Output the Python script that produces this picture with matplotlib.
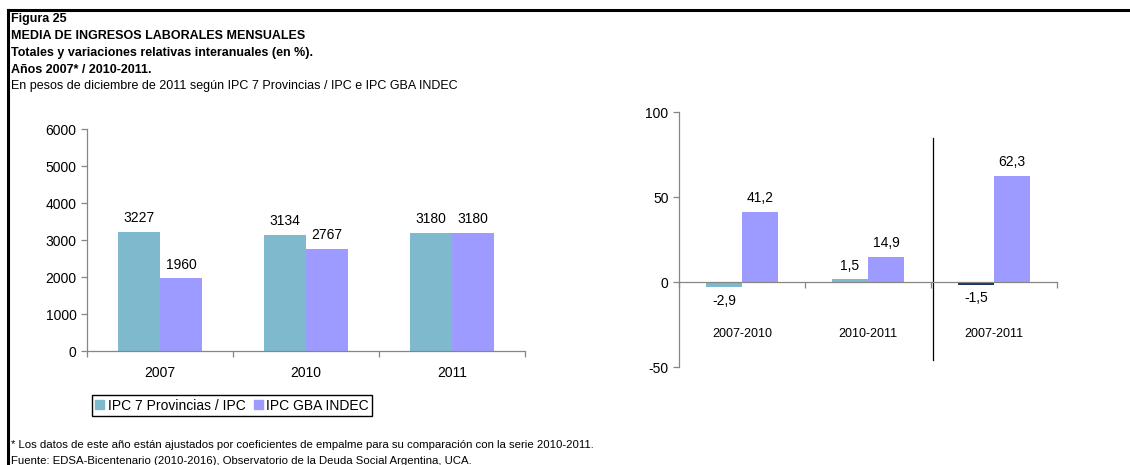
import numpy as np
import matplotlib.pyplot as plt
from matplotlib.lines import Line2D
from matplotlib.patches import Patch

plt.rcParams['font.family'] = ['Liberation Sans', 'DejaVu Sans']
plt.rcParams['axes.unicode_minus'] = False

# datos
anios = ['2007', '2010', '2011']
ipc_7prov = [3227, 3134, 3180]
ipc_gba = [1960, 2767, 3180]

periodos = ['2007-2010', '2010-2011', '2007-2011']
var_7prov = [-2.9, 1.5, -1.5]
var_gba = [41.2, 14.9, 62.3]

c_teal = '#7EB9CD'
c_lila = '#9D9BFF'
c_navy = '#17375E'
c_eje = '#868686'

fig = plt.figure(figsize=(11.3, 4.65), dpi=100)

# marco
fig.add_artist(Line2D([8 / 1130, 1], [1 - 10 / 465, 1 - 10 / 465], color='black', lw=2.2))
fig.add_artist(Line2D([8 / 1130, 8 / 1130], [0, 1 - 10 / 465], color='black', lw=2.2))

# titulos
titulos = ['Figura 25', 'MEDIA DE INGRESOS LABORALES MENSUALES',
           'Totales y variaciones relativas interanuales (en %).',
           'Años 2007* / 2010-2011.']
for i, t in enumerate(titulos):
    fig.text(11 / 1130, 1 - (19 + 17 * i) / 465, t, fontsize=9, fontweight='bold', va='center')
fig.text(11 / 1130, 1 - 86 / 465, 'En pesos de diciembre de 2011 según IPC 7 Provincias / IPC e IPC GBA INDEC',
         fontsize=9, va='center')

fig.text(11 / 1130, 1 - 445 / 465,
         '* Los datos de este año están ajustados por coeficientes de empalme para su comparación con la serie 2010-2011.',
         fontsize=8.2, va='center')
fig.text(11 / 1130, 1 - 461 / 465,
         'Fuente: EDSA-Bicentenario (2010-2016), Observatorio de la Deuda Social Argentina, UCA.',
         fontsize=8.2, va='center')


def estilo(ax):
    for s in ['top', 'right']:
        ax.spines[s].set_visible(False)
    for s in ['left', 'bottom']:
        ax.spines[s].set_color(c_eje)
        ax.spines[s].set_linewidth(0.9)
    ax.tick_params(axis='y', colors=c_eje, labelcolor='black', labelsize=10, length=4, width=0.9)
    ax.tick_params(axis='x', which='minor', colors=c_eje, length=4, width=0.9)
    ax.tick_params(axis='x', which='major', length=0, labelsize=10)


# grafico izquierdo
ax1 = fig.add_axes([87 / 1130, 1 - 351 / 465, 438 / 1130, 222 / 465])
x = np.arange(len(anios))
w = 0.2877
b1 = ax1.bar(x - w / 2, ipc_7prov, w, color=c_teal, label='IPC 7 Provincias / IPC')
b2 = ax1.bar(x + w / 2, ipc_gba, w, color=c_lila, label='IPC GBA INDEC')
ax1.set_xlim(-0.5, 2.5)
ax1.set_ylim(0, 6000)
ax1.set_yticks(range(0, 6001, 1000))
ax1.set_xticks(x)
ax1.set_xticklabels(anios)
ax1.set_xticks([-0.5, 0.5, 1.5, 2.5], minor=True)
estilo(ax1)
ax1.tick_params(axis='x', which='major', pad=11)
for barras, vals in [(b1, ipc_7prov), (b2, ipc_gba)]:
    for r, v in zip(barras, vals):
        ax1.annotate(str(v), (r.get_x() + r.get_width() / 2, v), xytext=(0, 10),
                     textcoords='offset points', ha='center', va='center', fontsize=10)

fig.legend(handles=[Patch(color=c_teal, label='IPC 7 Provincias / IPC'),
                    Patch(color=c_lila, label='IPC GBA INDEC')],
           loc='center', bbox_to_anchor=(232 / 1130, 1 - 405.5 / 465), ncol=2, fontsize=10,
           frameon=True, fancybox=False, edgecolor='black', framealpha=1,
           handlelength=0.65, handleheight=0.65, handletextpad=0.25, columnspacing=0.6,
           borderpad=0.25, borderaxespad=0)

# grafico derecho
ax2 = fig.add_axes([679 / 1130, 1 - 367 / 465, 378 / 1130, 255 / 465])
w2 = 0.2857
col_7 = [c_teal, c_teal, c_navy]
r1 = ax2.bar(x - w2 / 2, var_7prov, w2, color=col_7)
r2 = ax2.bar(x + w2 / 2, var_gba, w2, color=c_lila)
ax2.set_xlim(-0.5, 2.5)
ax2.set_ylim(-50, 100)
ax2.set_yticks([-50, 0, 50, 100])
ax2.spines['bottom'].set_position(('data', 0))
ax2.set_xticks(x)
ax2.set_xticklabels(periodos)
ax2.set_xticks([-0.5, 0.5, 1.5, 2.5], minor=True)
estilo(ax2)
ax2.tick_params(axis='x', which='major', pad=33, labelsize=9)
for barras, vals in [(r1, var_7prov), (r2, var_gba)]:
    for r, v in zip(barras, vals):
        off = 10 if v >= 0 else -10
        ax2.annotate(f'{v:.1f}'.replace('.', ','), (r.get_x() + r.get_width() / 2, v),
                     xytext=(0, off), textcoords='offset points', ha='center', va='center', fontsize=10)
ax2.plot([1.516, 1.516], [84.7, -45.9], color='black', lw=0.9, clip_on=False)

fig.savefig('out.png', dpi=100)
